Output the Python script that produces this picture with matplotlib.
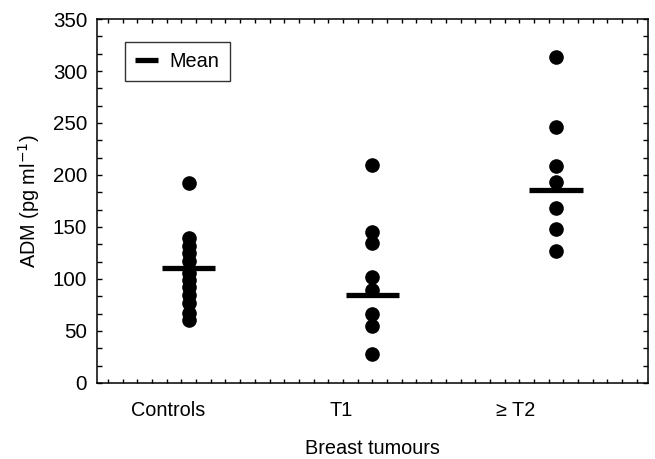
import matplotlib
matplotlib.use('Agg')
import matplotlib.pyplot as plt
from matplotlib.ticker import MultipleLocator, AutoMinorLocator
from matplotlib.lines import Line2D

plt.rcParams['font.family'] = ['Liberation Sans', 'DejaVu Sans']

groups = ['Controls', 'T1', '\u2265 T2']
controls = [192, 139, 132, 125, 117, 106, 99, 92, 85, 77, 67, 61]
t1 = [210, 145, 135, 102, 89, 66, 55, 28]
t2 = [313, 246, 209, 193, 168, 148, 127]
means = [111, 85, 186]
label_pos = [0.89, 1.83, 2.78]

fig = plt.figure(figsize=(6.55, 4.59), dpi=100)
ax = fig.add_axes([0.148, 0.1656, 0.841, 0.793])

for i, vals in enumerate([controls, t1, t2]):
    x = i + 1
    ax.plot([x] * len(vals), vals, 'o', color='black', markersize=9.5, zorder=3)
    ax.plot([x - 0.145, x + 0.145], [means[i], means[i]], color='black', lw=3.8,
            solid_capstyle='butt', zorder=4)

ax.set_xlim(0.5, 3.5)
ax.set_ylim(0, 350)
ax.yaxis.set_major_locator(MultipleLocator(50))
ax.yaxis.set_minor_locator(AutoMinorLocator(3))
ax.set_xticks(label_pos)
ax.set_xticklabels(groups)
ax.xaxis.set_minor_locator(MultipleLocator(0.08))

ax.tick_params(axis='both', which='both', direction='in', top=True, right=True,
               width=1)
ax.tick_params(axis='x', which='major', length=0, pad=13, labelsize=14.3)
ax.tick_params(axis='x', which='minor', length=3)
ax.tick_params(axis='y', which='both', length=3.5, pad=7, labelsize=14.8)
for s in ax.spines.values():
    s.set_linewidth(1.1)

ax.set_ylabel('ADM (pg ml$^{-1}$)', fontsize=14.3, labelpad=8)
ax.set_xlabel('Breast tumours', fontsize=14.3, labelpad=14)

handle = Line2D([0], [0], color='black', lw=3.8, solid_capstyle='butt')
leg = ax.legend([handle], ['Mean'], loc='upper left', bbox_to_anchor=(0.051, 0.937),
                fontsize=14.3, frameon=True, fancybox=False, handlelength=1.15,
                handletextpad=0.6, borderpad=0.5, borderaxespad=0)
leg.get_frame().set_edgecolor('black')
leg.get_frame().set_linewidth(1.0)

fig.savefig('out.png', dpi=100)
